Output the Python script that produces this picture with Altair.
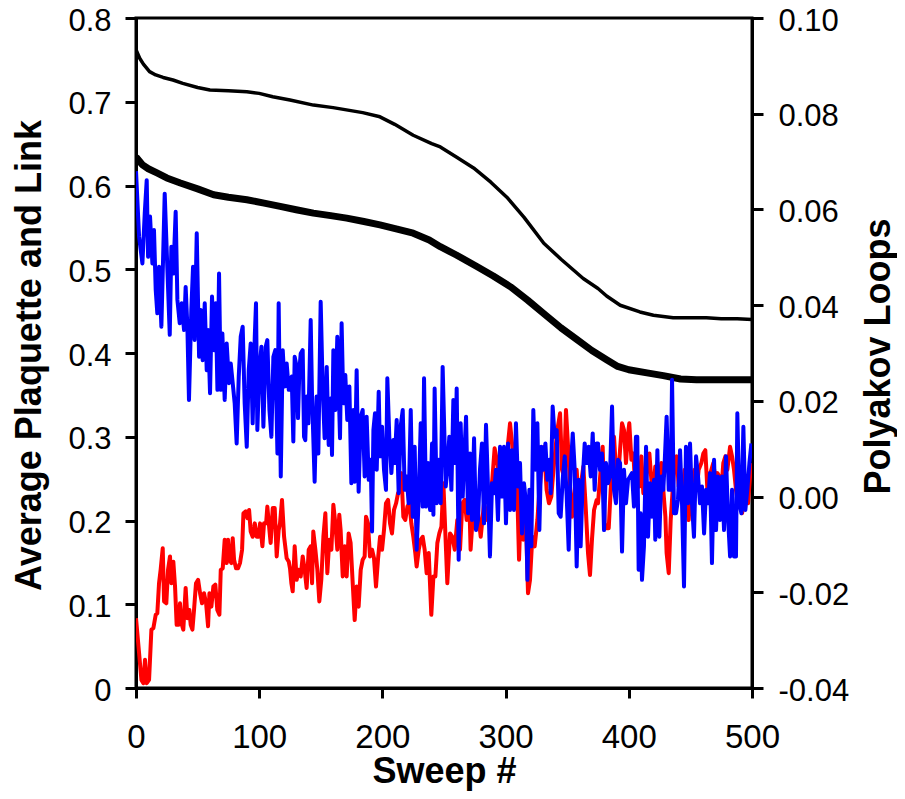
import altair as alt
import pandas as pd

# ---------------- data ----------------
sweep_ticks = [0, 100, 200, 300, 400, 500]
left_ticks = [0, 0.1, 0.2, 0.3, 0.4, 0.5, 0.6, 0.7, 0.8]
right_ticks = [-0.04, -0.02, 0, 0.02, 0.04, 0.06, 0.08, 0.10]

# upper (thin) black curve, left axis
upper_sweep = [0, 3, 6, 11, 16, 22, 30, 38, 50, 60, 75, 90, 100, 111, 125, 144, 160, 184, 198,
               210, 225, 240, 247, 260, 274, 288, 301, 315, 331, 345, 363, 375, 382, 393, 409,
               420, 436, 450, 463, 475, 488, 500]
upper_val = [0.762, 0.752, 0.745, 0.736, 0.732, 0.729, 0.726, 0.722, 0.717, 0.714, 0.713, 0.712,
             0.710, 0.706, 0.702, 0.696, 0.693, 0.687, 0.682, 0.673, 0.660, 0.650, 0.646, 0.634,
             0.621, 0.604, 0.586, 0.562, 0.531, 0.512, 0.489, 0.477, 0.468, 0.457, 0.449, 0.445,
             0.442, 0.442, 0.442, 0.441, 0.441, 0.440]

# lower (thick) black curve, left axis
lower_sweep = [0, 5, 10, 17, 25, 36, 50, 63, 75, 90, 104, 117, 130, 144, 158, 171, 185, 198, 212,
               225, 238, 247, 260, 277, 290, 304, 318, 331, 345, 358, 370, 382, 391, 400, 416,
               428, 442, 455, 470, 485, 500]
lower_val = [0.634, 0.625, 0.620, 0.615, 0.609, 0.603, 0.596, 0.589, 0.586, 0.583, 0.579, 0.575,
             0.571, 0.567, 0.564, 0.561, 0.557, 0.553, 0.548, 0.543, 0.535, 0.527, 0.517, 0.503,
             0.492, 0.479, 0.463, 0.447, 0.430, 0.416, 0.403, 0.392, 0.384, 0.380, 0.376, 0.373,
             0.369, 0.368, 0.368, 0.368, 0.368]

# blue Polyakov loop, right axis
blue_sweep = [0, 2.5, 5.2, 7.1, 8.7, 9.8, 11.4, 13.3, 14.6, 16.0, 17.3, 18.7, 20.6, 23.3, 25.5,
              27.4, 28.7, 30.3, 32.2, 33.6, 35.5, 37.1, 39.0, 40.3, 41.7, 43.0, 44.9, 46.3, 47.6,
              49.3, 51.2, 52.5, 54.1, 55.8, 57.4, 58.5, 60.1, 61.7, 63.3, 64.7, 66.1, 67.4, 68.8,
              70.1, 72.0, 73.6, 75.5, 76.9, 78.5, 80.1, 81.7, 83.4, 85.0, 86.6, 88.2, 89.9, 91.5,
              93.1, 94.7, 96.4, 97.4, 98.5, 100.1, 101.8, 103.4, 105.3, 106.6, 108.3, 109.9, 111.5,
              113.1, 114.8, 115.8, 117.5, 119.1, 120.7, 122.3, 124.0,
              125.0, 126.4, 127.7, 128.8, 130.4, 131.5, 132.6, 133.7, 135.3, 136.4, 137.4, 138.5,
              139.9, 141.8, 142.9, 145.0, 146.6, 148.0, 149.9, 151.5, 153.1, 154.8, 156.4, 158.0,
              159.1, 160.2, 161.8, 163.4, 165.6, 166.9, 168.3, 169.9, 171.5, 173.2, 174.8, 176.4,
              177.5, 179.1, 180.7, 182.4, 184.0, 185.6, 187.2, 188.9, 190.5, 191.6, 192.7, 194.0,
              195.4, 197.0, 198.1, 199.7, 201.3, 202.9, 204.0, 205.6, 207.3, 208.9, 210.0, 211.6,
              213.2, 214.8, 216.5, 218.1, 219.7, 221.3, 223.0, 224.6, 226.2, 227.8, 229.5, 231.1,
              232.7, 233.8, 235.4, 237.0, 238.7, 240.3, 241.4, 242.4, 244.1, 245.7, 247.3, 248.9,
              251.4, 252.7, 254.3, 256.0, 257.6, 259.2, 260.3, 261.9, 263.5, 265.2, 266.8, 267.9,
              269.5, 271.1, 272.7, 274.4, 276.0, 277.6, 279.2, 280.8, 282.5, 284.1, 285.7, 287.3,
              289.0, 290.6, 292.2, 293.8, 295.5, 297.1, 298.7, 300.3, 302.0, 303.6, 305.2, 306.8,
              308.4, 310.1, 311.7, 313.3, 314.9, 316.6, 317.7, 319.3, 320.9, 322.5, 324.1, 325.8,
              327.4, 329.0, 330.6, 332.3, 333.9, 335.5, 336.6, 338.2, 339.8, 341.5, 343.1, 344.7,
              346.3, 348.0, 349.6, 351.2, 352.8, 354.5, 356.1, 357.7, 359.3, 360.9, 362.6, 364.2,
              365.8, 367.4, 369.1, 370.7, 372.3, 373.9,
              375.0, 376.6, 378.2, 379.9, 381.5, 383.1, 384.7, 386.4, 388.0, 389.6, 391.2, 392.9,
              394.5, 396.1, 397.7, 399.4, 401.0, 402.6, 404.2, 405.8, 406.9, 408.0, 409.6, 410.7,
              412.3, 414.0, 415.6, 417.2, 418.8, 420.5, 421.5, 423.2, 424.8, 426.4, 428.0, 429.1,
              430.7, 432.4, 434.0, 435.1, 436.7, 438.3, 439.9, 441.6, 443.2, 444.8, 446.4, 448.1,
              449.7, 451.3, 452.9, 454.6, 456.2, 457.8, 459.4, 461.1, 462.7, 464.3, 465.9, 467.5,
              469.2, 470.8, 472.4, 474.0, 475.7, 477.3, 478.9, 480.5, 482.2, 483.8, 485.4, 487.0,
              488.1, 489.7, 491.4, 493.0, 494.6, 496.2, 497.9, 499.5]
blue_val = [0.068, 0.0543, 0.0487, 0.0592, 0.0661, 0.0501, 0.0585, 0.0487, 0.0557, 0.0432, 0.0383,
            0.0480, 0.0355, 0.0633, 0.0473, 0.0338, 0.0522, 0.0466, 0.0595, 0.0411, 0.0362, 0.0404,
            0.0348, 0.0438, 0.0355, 0.0202, 0.0390, 0.0480, 0.0327, 0.0550, 0.0292, 0.0390, 0.0285,
            0.0404, 0.0264, 0.0348, 0.0216, 0.0418, 0.0306, 0.0404, 0.0223, 0.0466, 0.0223, 0.0341,
            0.0202, 0.0320, 0.0237, 0.0278, 0.0237, 0.0195, 0.0111, 0.0251, 0.0334, 0.0355, 0.0195,
            0.0104, 0.0264, 0.0320, 0.0153, 0.0334, 0.0404, 0.0139, 0.0264, 0.0313, 0.0146, 0.0313,
            0.0327, 0.0181, 0.0125, 0.0292, 0.0306, 0.0090, 0.0404, 0.0042, 0.0306, 0.0230, 0.0278,
            0.0223,
            0.0237, 0.0251, 0.0115, 0.0292, 0.0271, 0.0164, 0.0264, 0.0299, 0.0306, 0.0125, 0.0118,
            0.0209, 0.0153, 0.0369, 0.0209, 0.0031, 0.0209, 0.0090, 0.0407, 0.0230, 0.0122, 0.0271,
            0.0108, 0.0205, 0.0087, 0.0306, 0.0181, 0.0334, 0.0122, 0.0362, 0.0195, 0.0254, 0.0160,
            0.0230, 0.0028, 0.0181, 0.0031, 0.0264, 0.0010, 0.0167, 0.0181, 0.0042, 0.0167, 0.0035,
            0.0077, -0.0073, 0.0139, 0.0174, 0.0056, 0.0219, 0.0084, 0.0146, 0.0056, 0.0014, 0.0247,
            0.0125, 0.0049, 0.0118, 0.0070, 0.0160, 0.0007, 0.0146, 0.0181, 0.0014, 0.0042, -0.0014,
            0.0181, -0.0042, 0.0104, -0.0111, 0.0000, 0.0153, -0.0021, 0.0247, -0.0021, 0.0070,
            -0.0028, 0.0111, -0.0038, 0.0226, -0.0014, 0.0077, -0.0014, 0.0271,
            0.0021, 0.0056, 0.0125, 0.0014, 0.0202, 0.0070, 0.0226, -0.0132, 0.0153, 0.0000, 0.0104,
            0.0167, -0.0035, 0.0090, -0.0049, 0.0122, -0.0070, -0.0049, 0.0056, 0.0111, -0.0056,
            0.0150, 0.0021, -0.0125, 0.0028, 0.0007, 0.0056, -0.0049, 0.0104, 0.0000, 0.0104,
            -0.0056, 0.0111, -0.0028, 0.0097, -0.0028, 0.0153, 0.0021, 0.0070, -0.0077, 0.0028,
            -0.0014, -0.0174, 0.0014, -0.0104, 0.0181, 0.0056, 0.0153, -0.0070, 0.0104, 0.0056,
            0.0111, 0.0035, 0.0077, 0.0007, 0.0188, 0.0125, 0.0139, -0.0035, -0.0042, 0.0035,
            0.0084, 0.0000, -0.0111, 0.0056, 0.0132, 0.0056, -0.0146, 0.0035, -0.0104, 0.0035,
            0.0111, 0.0070, 0.0104, 0.0042, 0.0132, 0.0014, 0.0111,
            0.0111, 0.0056, 0.0090, -0.0070, 0.0070, 0.0028, 0.0042, 0.0188, 0.0014, -0.0014,
            0.0077, 0.0070, -0.0115, 0.0056, -0.0014, 0.0035, 0.0042, 0.0049, -0.0021, 0.0125,
            0.0125, -0.0153, -0.0035, -0.0174, -0.0104, 0.0104, -0.0084, 0.0028, -0.0042, 0.0035,
            -0.0090, 0.0097, -0.0084, 0.0042, 0.0014, 0.0070, 0.0167, 0.0014, 0.0014, 0.0244,
            -0.0035, -0.0035, -0.0007, 0.0097, -0.0014, -0.0188, 0.0104, -0.0014, 0.0111, -0.0014,
            -0.0084, 0.0084, 0.0042, -0.0014, 0.0021, -0.0077, 0.0014, -0.0014, 0.0049, -0.0139,
            0.0077, -0.0070, 0.0042, -0.0049, 0.0042, -0.0070, 0.0084, -0.0042, -0.0125, 0.0014,
            -0.0125, -0.0125, 0.0174, -0.0014, -0.0035, 0.0146, -0.0028, 0.0014, 0.0070, 0.0111]

# red Polyakov loop, right axis
red_sweep = [0, 2.5, 4.4, 6.0, 7.3, 8.7, 10.6, 12.5, 14.1, 16.0, 17.3, 18.7, 20.0, 21.7, 22.8,
             24.6, 26.0, 27.6, 28.7, 30.3, 31.7, 33.0, 34.4, 35.7, 36.8, 38.4, 40.3, 41.7, 43.3,
             44.4, 45.8, 47.1, 48.7, 50.4, 52.0, 53.6, 55.2, 56.9, 58.5, 59.6, 61.2, 62.8, 64.4,
             66.0, 67.7, 68.8, 70.4, 72.0, 73.6, 74.7, 75.8, 77.4, 78.5, 79.6, 81.2, 82.8, 84.4,
             86.1, 87.2, 89.1, 90.4, 91.8, 93.1, 94.7, 96.4, 98.0, 99.6, 100.7, 102.6, 103.9, 105.6,
             106.6, 108.3, 109.3, 111.0, 112.6, 114.2, 115.8, 116.9, 118.5, 120.2, 122.3, 124.0,
             125.0, 126.1, 127.2, 128.8, 130.4, 132.0, 133.7, 135.3, 136.9, 138.5, 140.2, 141.8,
             142.9, 143.9, 145.6, 147.2, 148.8, 150.4, 152.1, 153.7, 155.3, 156.9, 158.6, 160.2,
             161.8, 163.4, 165.0, 166.1, 167.8, 169.4, 171.0, 172.6, 174.2, 175.9, 177.5, 179.1,
             180.7, 182.4, 184.0, 185.6, 186.7, 188.3, 189.9, 191.6, 193.2, 194.8, 196.4, 198.1,
             199.7, 201.3, 202.9, 204.6, 206.2, 207.8, 209.4, 211.1, 212.7, 214.3, 215.4, 217.0,
             218.6, 220.3, 221.9, 223.5, 225.1, 226.7, 227.8, 229.5, 231.1, 232.7, 234.3, 235.9,
             237.6, 239.7, 241.4, 243.0, 244.6, 246.2, 247.9, 249.5,
             252.7, 254.9, 256.8, 258.7, 260.8, 263.0, 264.9, 266.8, 268.4, 270.3, 271.6, 273.0,
             275.7, 277.6, 279.8, 282.5, 285.2, 287.3, 289.2, 291.1, 293.3, 294.6, 296.5, 298.7,
             300.9, 303.6, 305.5, 306.8, 309.0, 310.9, 312.8, 314.4, 316.3, 318.2, 319.8, 321.7,
             323.6, 325.8, 327.1, 329.0, 331.2, 333.3, 335.2, 337.1, 339.3, 342.0, 344.2, 345.8,
             347.4, 349.0, 350.7, 352.3, 353.9, 355.5, 357.7, 359.3, 360.9, 363.1, 365.0, 366.9,
             368.5, 370.1, 371.8, 373.9,
             375.0, 377.2, 378.8, 380.4, 382.0, 383.7, 385.3, 386.9, 388.0, 389.6, 391.2, 392.9,
             394.5, 396.1, 397.7, 399.4, 400.4, 402.1, 403.7, 405.3, 406.9, 408.6, 410.2, 411.8,
             413.4, 415.0, 416.7, 418.3, 419.9, 421.5, 423.2, 424.8, 426.4, 428.0, 429.7, 430.7,
             432.4, 434.0, 435.6, 437.2, 438.9, 440.5, 442.1, 443.7, 445.4, 447.0, 448.6, 450.2,
             451.9, 453.5, 455.1, 456.7, 458.9, 460.5, 462.1, 463.8, 465.4, 467.0, 468.6, 470.3,
             471.9, 473.5, 475.1, 476.7, 478.4, 480.0, 482.2, 483.8, 485.4, 487.0, 488.7, 490.3,
             491.9, 493.5, 495.1, 496.8, 498.4, 499.5]
red_val = [-0.0254, -0.0327, -0.0383, -0.0390, -0.0341, -0.0390, -0.0383, -0.0278, -0.0275,
           -0.0247, -0.0244, -0.0181, -0.0153, -0.0108, -0.0219, -0.0223, -0.0153, -0.0125,
           -0.0181, -0.0136, -0.0188, -0.0268, -0.0268, -0.0223, -0.0264, -0.0278, -0.0191,
           -0.0254, -0.0237, -0.0268, -0.0278, -0.0237, -0.0181, -0.0174, -0.0202, -0.0223,
           -0.0202, -0.0223, -0.0271, -0.0202, -0.0230, -0.0188, -0.0184, -0.0237, -0.0247,
           -0.0153, -0.0150, -0.0090, -0.0139, -0.0090, -0.0132, -0.0139, -0.0087, -0.0132,
           -0.0150, -0.0150, -0.0139, -0.0111, -0.0035, -0.0031, -0.0045, -0.0028, -0.0073,
           -0.0084, -0.0056, -0.0084, -0.0084, -0.0056, -0.0104, -0.0056, -0.0056, -0.0021,
           -0.0070, -0.0097, -0.0024, -0.0024, -0.0125, -0.0070, -0.0056, -0.0007, -0.0084,
           -0.0129, -0.0136,
           -0.0150, -0.0181, -0.0198, -0.0104, -0.0174, -0.0153, -0.0167, -0.0125, -0.0153,
           -0.0191, -0.0111, -0.0104, -0.0181, -0.0073, -0.0111, -0.0153, -0.0219, -0.0174,
           -0.0084, -0.0035, -0.0160, -0.0090, -0.0111, -0.0017, -0.0056, -0.0111, -0.0038,
           -0.0070, -0.0167, -0.0104, -0.0167, -0.0077, -0.0097, -0.0181, -0.0258, -0.0188,
           -0.0230, -0.0153, -0.0132, -0.0125, -0.0042, -0.0056, -0.0125, -0.0111, -0.0129,
           -0.0188, -0.0132, -0.0084, -0.0111, -0.0070, -0.0014, -0.0007, -0.0056, -0.0077,
           -0.0028, -0.0014, 0.0007, 0.0014, 0.0049, -0.0042, -0.0049, -0.0021, -0.0014, -0.0056,
           -0.0084, -0.0118, -0.0146, -0.0111, -0.0090, -0.0084, -0.0111, -0.0160, -0.0118,
           -0.0247, -0.0167, -0.0167, -0.0097, -0.0077, -0.0063, 0.0028,
           -0.0181, -0.0077, -0.0084, -0.0111, -0.0049, -0.0111, -0.0014, -0.0007, -0.0049,
           0.0014, -0.0111, -0.0056, 0.0014, -0.0035, -0.0084, -0.0014, -0.0049, 0.0000, 0.0035,
           0.0101, 0.0070, 0.0042, 0.0056, 0.0077, 0.0084, 0.0153, 0.0104, 0.0021, 0.0056,
           -0.0132, 0.0014, -0.0090, -0.0035, -0.0202, -0.0174, -0.0084, -0.0104, -0.0049,
           0.0000, 0.0056, 0.0104, 0.0014, -0.0014, 0.0000, 0.0070, 0.0139, 0.0174, 0.0056,
           0.0042, 0.0181, 0.0104, 0.0021, -0.0042, -0.0007, 0.0056, -0.0014, 0.0021, 0.0063,
           -0.0021, -0.0118, -0.0164, -0.0090, -0.0028, -0.0007,
           -0.0014, 0.0056, 0.0104, -0.0056, -0.0066, -0.0066, 0.0014, 0.0070, 0.0125, 0.0056,
           0.0035, 0.0097, 0.0153, 0.0139, 0.0070, 0.0132, 0.0153, 0.0077, 0.0090, 0.0014,
           0.0070, 0.0021, 0.0084, 0.0007, 0.0028, 0.0056, 0.0090, 0.0035, 0.0014, 0.0063,
           0.0014, 0.0035, 0.0070, 0.0014, -0.0042, -0.0118, -0.0160, -0.0049, 0.0014, 0.0070,
           0.0084, 0.0021, 0.0035, 0.0014, 0.0056, 0.0000, -0.0049, 0.0014, 0.0042, 0.0056,
           0.0014, 0.0056, 0.0070, 0.0090, 0.0097, 0.0014, 0.0042, 0.0056, 0.0070, 0.0035,
           0.0049, 0.0042, 0.0014, 0.0070, 0.0084, 0.0056, 0.0104, 0.0084, 0.0056, 0.0014,
           -0.0014, 0.0000, -0.0035, -0.0014, 0.0021, -0.0014, 0.0042, 0.0070]

# ---------------- chart ----------------
FONT = "Liberation Sans"

df_upper = pd.DataFrame({"sweep": upper_sweep, "value": upper_val})
df_lower = pd.DataFrame({"sweep": lower_sweep, "value": lower_val})
df_blue = pd.DataFrame({"sweep": blue_sweep, "value": blue_val})
df_red = pd.DataFrame({"sweep": red_sweep, "value": red_val})

common_axis = dict(grid=False, domainColor="black", domainWidth=3, tickColor="black",
                   tickWidth=3, labelColor="black", labelFont=FONT,
                   labelFlush=False, titleFont=FONT, titleFontWeight="bold",
                   titleColor="black", labelOverlap=False)

x_enc = alt.X("sweep:Q",
              scale=alt.Scale(domain=[0, 500], nice=False, zero=False),
              axis=alt.Axis(values=sweep_ticks, format="d", title="Sweep #",
                            tickSize=10, labelPadding=23, labelFontSize=33,
                            titleFontSize=36, titleX=308, titleY=94, titleAlign="center",
                            titleBaseline="alphabetic", titleAngle=0, **common_axis))

y_left = alt.Y("value:Q",
               scale=alt.Scale(domain=[0, 0.8], nice=False, zero=False),
               axis=alt.Axis(orient="left", values=left_ticks, format=".1~f",
                             title="Average Plaquette and Link", tickSize=11,
                             labelPadding=14, labelFontSize=31, labelOffset=3,
                             titleFontSize=36, titleX=-96, titleY=337,
                             titleAngle=270, titleAlign="center",
                             titleBaseline="alphabetic", **common_axis))

y_right = alt.Y("value:Q",
                scale=alt.Scale(domain=[-0.04, 0.10], nice=False, zero=False),
                axis=alt.Axis(orient="right", values=right_ticks,
                              labelExpr="(datum.value < -0.000001 ? '-' : '') + format(abs(datum.value), '.2f')",
                              title="Polyakov Loops", tickSize=11, labelPadding=15,
                              labelFontSize=31, labelOffset=3,
                              titleFontSize=36, titleX=137, titleY=338, titleAngle=270,
                              titleAlign="center", titleBaseline="alphabetic",
                              **common_axis))

upper = alt.Chart(df_upper).mark_line(color="black", strokeWidth=3.5, strokeJoin="round",
                                      clip=True).encode(x=x_enc, y=y_left)
lower = alt.Chart(df_lower).mark_line(color="black", strokeWidth=7, strokeJoin="round",
                                      clip=True).encode(x=x_enc, y=y_left)
red = alt.Chart(df_red).mark_line(color="#ff0000", strokeWidth=4, strokeJoin="round",
                                  clip=True).encode(x=x_enc, y=y_right)
blue = alt.Chart(df_blue).mark_line(color="#0000ff", strokeWidth=4, strokeJoin="round",
                                    clip=True).encode(x=x_enc, y=y_right)

left_layer = alt.layer(upper, lower)
right_layer = alt.layer(red, blue)

chart = (
    alt.layer(left_layer, right_layer)
    .resolve_scale(y="independent")
    .properties(width=616, height=670,
                padding={"left": 128, "top": 10, "right": 145, "bottom": 103},
                autosize=alt.AutoSizeParams(type="none"),
                background="white")
    .configure_view(stroke="black", strokeWidth=3)
)

chart.save("out.html", embed_options={"renderer": "svg", "actions": False})
